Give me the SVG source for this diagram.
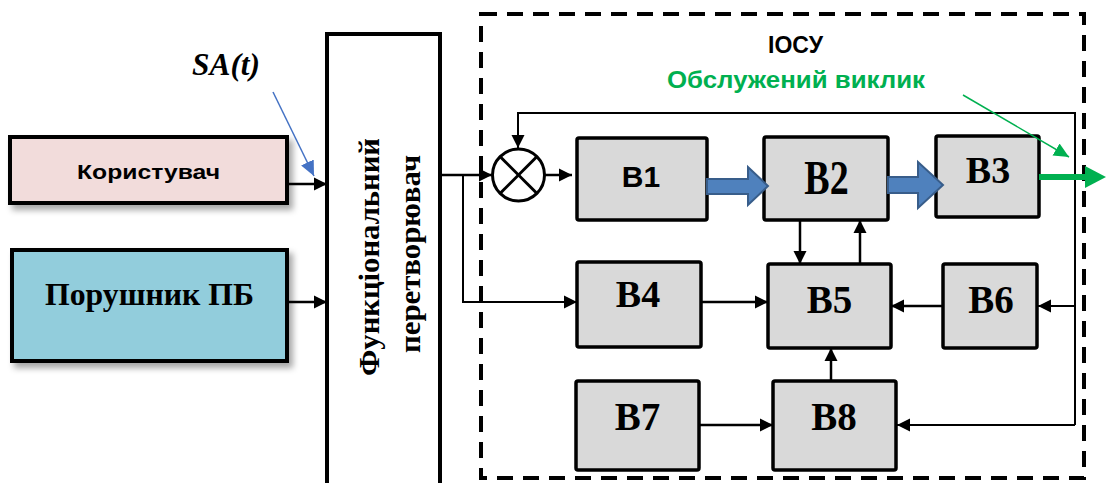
<svg xmlns="http://www.w3.org/2000/svg" width="1106" height="483" viewBox="0 0 1106 483">
<style>
.box{fill:#D9D9D9;stroke:#000;stroke-width:3.5}
.conn{fill:none;stroke:#000;stroke-width:2.5}
.thin{fill:none;stroke:#000;stroke-width:2}
.tb{font-family:"Liberation Serif",serif;font-weight:bold;fill:#000;text-anchor:middle}
.sb{font-family:"Liberation Sans",sans-serif;font-weight:bold;fill:#000;text-anchor:middle}
.blue{fill:#4F81BD;stroke:#385D8A;stroke-width:2}
</style>
<defs>
<marker id="ah" markerUnits="userSpaceOnUse" markerWidth="14" markerHeight="14" refX="13" refY="7" orient="auto"><path d="M0,0.5 L13,7 L0,13.5 z" fill="#000"/></marker>
<marker id="ahb" markerUnits="userSpaceOnUse" markerWidth="16" markerHeight="16" refX="15" refY="8" orient="auto"><path d="M0,1 L15,8 L0,15 z" fill="#4472C4"/></marker>
<marker id="ahg" markerUnits="userSpaceOnUse" markerWidth="16" markerHeight="16" refX="15" refY="8" orient="auto"><path d="M0,1 L15,8 L0,15 z" fill="#00B050"/></marker>
<filter id="sh" x="-10%" y="-10%" width="125%" height="135%"><feDropShadow dx="4" dy="5" stdDeviation="3" flood-color="#000" flood-opacity="0.35"/></filter>
</defs>
<rect width="1106" height="483" fill="#fff"/>

<g id="iosu">
<rect x="481" y="14" width="603" height="464" fill="none" stroke="#000" stroke-width="4" stroke-dasharray="16 10"/>
<text x="795.5" y="53" class="sb" font-size="23">ІОСУ</text>
<text x="796" y="88" class="sb" font-size="24" textLength="258" lengthAdjust="spacingAndGlyphs" style="fill:#00B050">Обслужений виклик</text>
</g>

<g id="user">
<rect x="10" y="137" width="277" height="66" fill="#F2DCDB" stroke="#000" stroke-width="4" filter="url(#sh)"/>
<text x="148.5" y="179" class="sb" font-size="21" textLength="143" lengthAdjust="spacingAndGlyphs">Користувач</text>
</g>

<g id="violator">
<rect x="12" y="250" width="275" height="111" fill="#92CDDC" stroke="#000" stroke-width="4" filter="url(#sh)"/>
<text x="149.5" y="305" class="tb" font-size="32" textLength="209" lengthAdjust="spacingAndGlyphs">Порушник ПБ</text>
</g>

<g id="sa">
<text x="226" y="75" font-family="Liberation Serif,serif" font-weight="bold" font-style="italic" font-size="31" text-anchor="middle" textLength="68" lengthAdjust="spacingAndGlyphs">SA(t)</text>
</g>

<g id="converter">
<rect x="327" y="34" width="113" height="460" fill="#fff" stroke="#000" stroke-width="4"/>
<text transform="translate(379,257) rotate(-90)" class="tb" font-size="30" textLength="238" lengthAdjust="spacingAndGlyphs">Функціональний</text>
<text transform="translate(420,254) rotate(-90)" class="tb" font-size="29" textLength="198" lengthAdjust="spacingAndGlyphs">перетворювач</text>
</g>

<g id="mult">
<circle cx="518.5" cy="175" r="26" fill="#fff" stroke="#000" stroke-width="3"/>
<line x1="500" y1="156.5" x2="537" y2="193.5" stroke="#000" stroke-width="3"/>
<line x1="537" y1="156.5" x2="500" y2="193.5" stroke="#000" stroke-width="3"/>
</g>

<g id="b1"><rect x="577" y="138" width="130" height="82" rx="2" class="box"/><text x="641" y="187" class="sb" font-size="30">B1</text></g>
<g id="b2"><rect x="764" y="137" width="124" height="83" rx="2" class="box"/><text transform="translate(826.5,194) scale(1,1.28)" class="tb" font-size="38">B2</text></g>
<g id="b3"><rect x="936" y="136" width="103" height="81" rx="2" class="box"/><text x="988" y="183" class="tb" font-size="38">B3</text></g>
<g id="b4"><rect x="577" y="262" width="124" height="85" rx="2" class="box"/><text x="638" y="307" class="tb" font-size="38">B4</text></g>
<g id="b5"><rect x="768" y="264" width="123" height="84" rx="2" class="box"/><text x="829.5" y="313" class="tb" font-size="39">B5</text></g>
<g id="b6"><rect x="943" y="264" width="94" height="84" rx="2" class="box"/><text x="991" y="313" class="tb" font-size="39">B6</text></g>
<g id="b7"><rect x="576" y="381" width="123" height="89" rx="2" class="box"/><text x="637.5" y="430" class="tb" font-size="39">B7</text></g>
<g id="b8"><rect x="773" y="381" width="123" height="89" rx="2" class="box"/><text x="834" y="430" class="tb" font-size="39">B8</text></g>

<g id="connectors">
<line x1="287" y1="184" x2="327" y2="184" class="conn" marker-end="url(#ah)"/>
<line x1="287" y1="302" x2="327" y2="302" class="conn" marker-end="url(#ah)"/>
<line x1="273" y1="92" x2="314" y2="176" stroke="#4472C4" stroke-width="1.5" marker-end="url(#ahb)"/>
<line x1="440" y1="175" x2="492" y2="175" class="conn" marker-end="url(#ah)"/>
<polyline points="463,175 463,302 577,302" class="thin" marker-end="url(#ah)"/>
<line x1="545" y1="175" x2="572" y2="175" class="conn" marker-end="url(#ah)"/>
<polyline points="1075,425 1075,113 518,113 518,148" class="thin" marker-end="url(#ah)"/>
<line x1="1075" y1="306" x2="1038" y2="306" class="thin" marker-end="url(#ah)"/>
<line x1="1075" y1="425" x2="897" y2="425" class="thin" marker-end="url(#ah)"/>
<polygon points="707,179 748,179 748,167 768,186 748,205 748,194 707,194" class="blue"/>
<polygon points="888,177 918,177 918,162 943,185 918,208 918,193 888,193" class="blue"/>
<line x1="1039" y1="177" x2="1088" y2="177" stroke="#00B050" stroke-width="6"/>
<polygon points="1085,166 1106,177 1085,188" fill="#00B050"/>
<line x1="963" y1="95" x2="1069" y2="157" stroke="#00B050" stroke-width="1.5" marker-end="url(#ahg)"/>
<line x1="800" y1="220" x2="800" y2="264" class="conn" marker-end="url(#ah)"/>
<line x1="860" y1="264" x2="860" y2="220" class="conn" marker-end="url(#ah)"/>
<line x1="701" y1="302" x2="768" y2="302" class="conn" marker-end="url(#ah)"/>
<line x1="943" y1="306" x2="891" y2="306" class="conn" marker-end="url(#ah)"/>
<line x1="831" y1="381" x2="831" y2="348" class="conn" marker-end="url(#ah)"/>
<line x1="699" y1="425" x2="773" y2="425" class="conn" marker-end="url(#ah)"/>
</g>
</svg>
